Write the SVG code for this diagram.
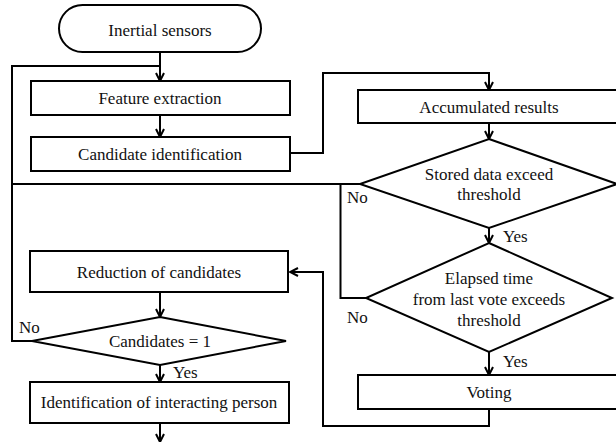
<svg xmlns="http://www.w3.org/2000/svg" width="616" height="442" viewBox="0 0 616 442" font-family="'Liberation Serif', 'Times New Roman', serif">
<defs>
<style>
.box{fill:#fff;stroke:#000;stroke-width:2}
.ln{fill:none;stroke:#000;stroke-width:2}
text{font-family:"Liberation Serif","Times New Roman",serif;font-size:17px;fill:#111}
.c{text-anchor:middle}
</style>
<marker id="ah" viewBox="0 0 10 10" refX="9" refY="5" markerWidth="10" markerHeight="10" markerUnits="userSpaceOnUse" orient="auto">
<path d="M1,1 L9,5 L1,9" fill="none" stroke="#000" stroke-width="2"/>
</marker>
</defs>
<rect width="616" height="442" fill="#fff"/>
<g id="connectors">
<line class="ln" x1="160" y1="52" x2="160" y2="81" marker-end="url(#ah)"/>
<path class="ln" d="M32,341 H12 V66 H160"/>
<line class="ln" x1="160" y1="115" x2="160" y2="137" marker-end="url(#ah)"/>
<path class="ln" d="M290,153 H323 V73 H489 V90" marker-end="url(#ah)"/>
<line class="ln" x1="489" y1="123" x2="489" y2="139" marker-end="url(#ah)"/>
<path class="ln" d="M360,184 H12"/>
<path class="ln" d="M340.5,184 V298 H366"/>
<line class="ln" x1="489" y1="228" x2="489" y2="243" marker-end="url(#ah)"/>
<line class="ln" x1="489" y1="352" x2="489" y2="375" marker-end="url(#ah)"/>
<path class="ln" d="M489,409 V426 H323 V272 H290" marker-end="url(#ah)"/>
<line class="ln" x1="160" y1="292" x2="160" y2="317" marker-end="url(#ah)"/>
<line class="ln" x1="160" y1="365" x2="160" y2="382" marker-end="url(#ah)"/>
<line class="ln" x1="160" y1="423" x2="160" y2="442" marker-end="url(#ah)"/>
<text x="347" y="203">No</text>
<text x="503" y="242">Yes</text>
<text x="347" y="323">No</text>
<text x="503" y="367">Yes</text>
<text x="19" y="333">No</text>
<text x="173" y="378">Yes</text>
</g>
<g id="start">
<rect class="box" x="59" y="5" width="202" height="47" rx="23.5"/>
<text class="c" x="160" y="36">Inertial sensors</text>
</g>
<g id="feature">
<rect class="box" x="31" y="81" width="259" height="34"/>
<text class="c" x="160" y="104">Feature extraction</text>
</g>
<g id="candidate">
<rect class="box" x="31" y="137" width="259" height="34"/>
<text class="c" x="160" y="160">Candidate identification</text>
</g>
<g id="accumulated">
<rect class="box" x="358" y="90" width="270" height="33"/>
<text class="c" x="489" y="113">Accumulated results</text>
</g>
<g id="stored">
<polygon class="box" points="489,139 617,184 489,228 360,184"/>
<text class="c" x="489" y="180">Stored data exceed</text>
<text class="c" x="489" y="200">threshold</text>
</g>
<g id="elapsed">
<polygon class="box" points="489,243 612,298 489,352 366,298"/>
<text class="c" x="489" y="284">Elapsed time</text>
<text class="c" x="489" y="305">from last vote exceeds</text>
<text class="c" x="489" y="326">threshold</text>
</g>
<g id="voting">
<rect class="box" x="358" y="375" width="270" height="34"/>
<text class="c" x="489" y="398">Voting</text>
</g>
<g id="reduction">
<rect class="box" x="30" y="251" width="258" height="41"/>
<text class="c" x="159" y="278">Reduction of candidates</text>
</g>
<g id="single">
<polygon class="box" points="160,317 286,341 160,365 32,341"/>
<text class="c" x="160" y="347">Candidates = 1</text>
</g>
<g id="identification">
<rect class="box" x="30" y="382" width="259" height="41"/>
<text class="c" x="159" y="408">Identification of interacting person</text>
</g>
</svg>
